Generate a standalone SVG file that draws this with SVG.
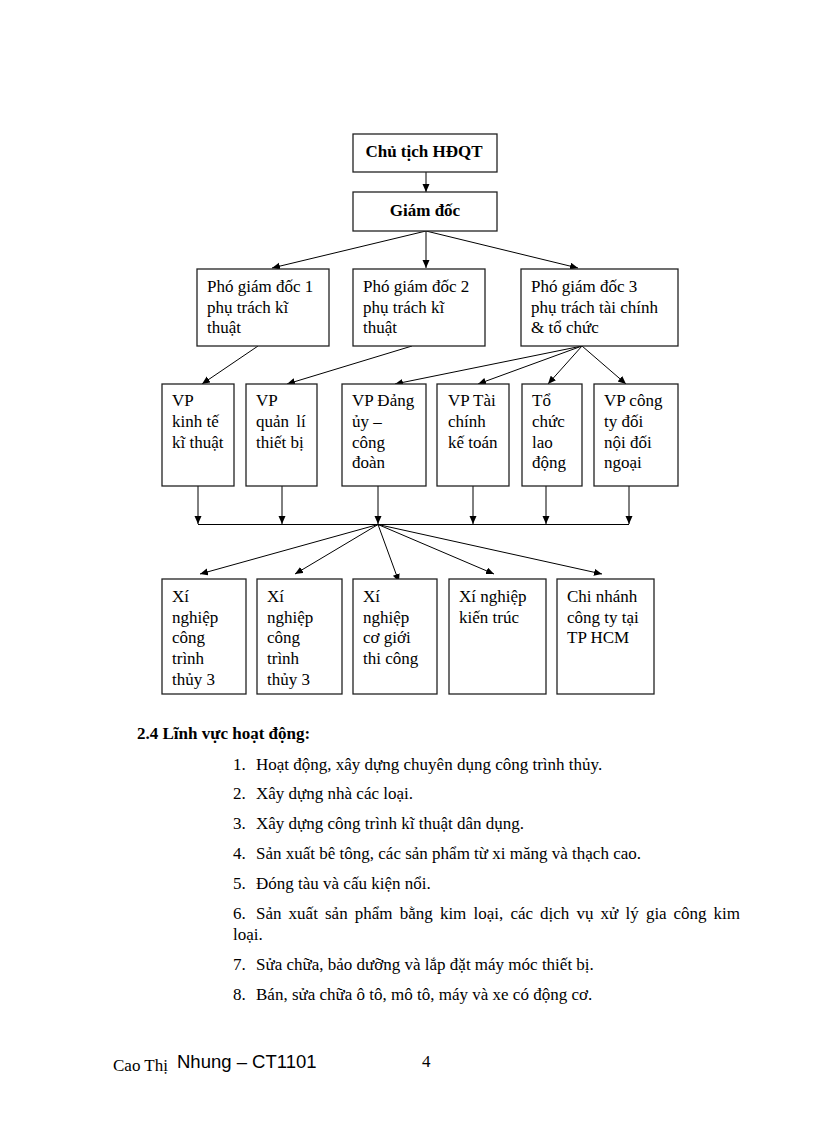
<svg xmlns="http://www.w3.org/2000/svg" width="816" height="1123" viewBox="0 0 816 1123">
<style>
.box{fill:#fff;stroke:#222;stroke-width:1.3}
.t{font-family:"Liberation Serif","Times New Roman",serif;font-size:17px;fill:#000}
.b{font-family:"Liberation Serif","Times New Roman",serif;font-size:17px;font-weight:bold;fill:#000}
.p{font-family:"Liberation Serif","Times New Roman",serif;font-size:17px;fill:#000}
.ph{font-family:"Liberation Serif","Times New Roman",serif;font-size:17px;font-weight:bold;fill:#000}
.c{stroke:#000;stroke-width:1;fill:none}
</style>
<defs>
<marker id="ah" markerUnits="userSpaceOnUse" markerWidth="9" markerHeight="8" refX="8" refY="3.5" orient="auto">
<path d="M0,0 L8,3.5 L0,7 z" fill="#000"/>
</marker>
</defs>
<rect width="816" height="1123" fill="#fff"/>

<g id="connectors">
<line class="c" x1="426" y1="172" x2="426" y2="192" marker-end="url(#ah)"/>
<line class="c" x1="426" y1="231" x2="272" y2="268" marker-end="url(#ah)"/>
<line class="c" x1="426" y1="231" x2="426" y2="268" marker-end="url(#ah)"/>
<line class="c" x1="426" y1="231" x2="578" y2="268" marker-end="url(#ah)"/>
<line class="c" x1="258" y1="346" x2="202" y2="384" marker-end="url(#ah)"/>
<line class="c" x1="412" y1="346" x2="287" y2="384" marker-end="url(#ah)"/>
<line class="c" x1="582" y1="346" x2="395" y2="384" marker-end="url(#ah)"/>
<line class="c" x1="582" y1="346" x2="478" y2="384" marker-end="url(#ah)"/>
<line class="c" x1="582" y1="346" x2="548" y2="384" marker-end="url(#ah)"/>
<line class="c" x1="582" y1="346" x2="626" y2="384" marker-end="url(#ah)"/>
<line class="c" x1="198" y1="486" x2="198" y2="524" marker-end="url(#ah)"/>
<line class="c" x1="282" y1="486" x2="282" y2="524" marker-end="url(#ah)"/>
<line class="c" x1="378" y1="486" x2="378" y2="524" marker-end="url(#ah)"/>
<line class="c" x1="473" y1="486" x2="473" y2="524" marker-end="url(#ah)"/>
<line class="c" x1="546" y1="486" x2="546" y2="524" marker-end="url(#ah)"/>
<line class="c" x1="629" y1="486" x2="629" y2="524" marker-end="url(#ah)"/>
<line class="c" x1="198" y1="524.5" x2="629" y2="524.5"/>
<line class="c" x1="378" y1="524.5" x2="200" y2="574" marker-end="url(#ah)"/>
<line class="c" x1="378" y1="524.5" x2="295" y2="574" marker-end="url(#ah)"/>
<line class="c" x1="378" y1="524.5" x2="399" y2="582" marker-end="url(#ah)"/>
<line class="c" x1="378" y1="524.5" x2="494" y2="574" marker-end="url(#ah)"/>
<line class="c" x1="378" y1="524.5" x2="602" y2="574" marker-end="url(#ah)"/>
</g>

<g id="chutich">
<rect class="box" x="353" y="134" width="144" height="38"/>
<text class="b" x="424" y="157" text-anchor="middle">Chủ tịch HĐQT</text>
</g>
<g id="giamdoc">
<rect class="box" x="353" y="192" width="144" height="39"/>
<text class="b" x="425" y="216" text-anchor="middle">Giám đốc</text>
</g>

<g id="pgd1">
<rect class="box" x="197" y="269" width="132" height="77"/>
<text class="t" x="207" y="292">Phó giám đốc 1</text>
<text class="t" x="207" y="312.5">phụ trách kĩ</text>
<text class="t" x="207" y="333">thuật</text>
</g>
<g id="pgd2">
<rect class="box" x="353" y="269" width="132" height="77"/>
<text class="t" x="363" y="292">Phó giám đốc 2</text>
<text class="t" x="363" y="312.5">phụ trách kĩ</text>
<text class="t" x="363" y="333">thuật</text>
</g>
<g id="pgd3">
<rect class="box" x="521" y="269" width="157" height="77"/>
<text class="t" x="531" y="292">Phó giám đốc 3</text>
<text class="t" x="531" y="312.5">phụ trách tài chính</text>
<text class="t" x="531" y="333">&amp; tổ chức</text>
</g>

<g id="vp1">
<rect class="box" x="162" y="384" width="72" height="102"/>
<text class="t" x="172" y="406">VP</text>
<text class="t" x="172" y="427">kinh tế</text>
<text class="t" x="172" y="447.5">kĩ thuật</text>
</g>
<g id="vp2">
<rect class="box" x="246" y="384" width="71" height="102"/>
<text class="t" x="256" y="406">VP</text>
<text class="t" x="256" y="427" word-spacing="3">quản lí</text>
<text class="t" x="256" y="447.5">thiết bị</text>
</g>
<g id="vp3">
<rect class="box" x="342" y="384" width="84" height="102"/>
<text class="t" x="352" y="406">VP Đảng</text>
<text class="t" x="352" y="427">ủy –</text>
<text class="t" x="352" y="447.5">công</text>
<text class="t" x="352" y="468">đoàn</text>
</g>
<g id="vp4">
<rect class="box" x="437" y="384" width="72" height="102"/>
<text class="t" x="448" y="406">VP Tài</text>
<text class="t" x="448" y="427">chính</text>
<text class="t" x="448" y="447.5">kế toán</text>
</g>
<g id="vp5">
<rect class="box" x="522" y="384" width="60" height="102"/>
<text class="t" x="532" y="406">Tổ</text>
<text class="t" x="532" y="427">chức</text>
<text class="t" x="532" y="447.5">lao</text>
<text class="t" x="532" y="468">động</text>
</g>
<g id="vp6">
<rect class="box" x="594" y="384" width="84" height="102"/>
<text class="t" x="604" y="406">VP công</text>
<text class="t" x="604" y="427">ty đối</text>
<text class="t" x="604" y="447.5">nội đối</text>
<text class="t" x="604" y="468">ngoại</text>
</g>

<g id="xn1">
<rect class="box" x="162" y="579" width="84" height="115"/>
<text class="t" x="172" y="601.5">Xí</text>
<text class="t" x="172" y="622.5">nghiệp</text>
<text class="t" x="172" y="643">công</text>
<text class="t" x="172" y="664">trình</text>
<text class="t" x="172" y="685">thủy 3</text>
</g>
<g id="xn2">
<rect class="box" x="257" y="579" width="85" height="115"/>
<text class="t" x="267" y="601.5">Xí</text>
<text class="t" x="267" y="622.5">nghiệp</text>
<text class="t" x="267" y="643">công</text>
<text class="t" x="267" y="664">trình</text>
<text class="t" x="267" y="685">thủy 3</text>
</g>
<g id="xn3">
<rect class="box" x="353" y="579" width="84" height="115"/>
<text class="t" x="363" y="601.5">Xí</text>
<text class="t" x="363" y="622.5">nghiệp</text>
<text class="t" x="363" y="643">cơ giới</text>
<text class="t" x="363" y="664">thi công</text>
</g>
<g id="xn4">
<rect class="box" x="449" y="579" width="97" height="115"/>
<text class="t" x="459" y="601.5">Xí nghiệp</text>
<text class="t" x="459" y="622.5">kiến trúc</text>
</g>
<g id="cn">
<rect class="box" x="557" y="579" width="97" height="115"/>
<text class="t" x="567" y="601.5">Chi nhánh</text>
<text class="t" x="567" y="622.5">công ty tại</text>
<text class="t" x="567" y="643">TP HCM</text>
</g>

<g id="section">
<text class="ph" x="137" y="739">2.4 Lĩnh vực hoạt động:</text>
<text class="p" x="233" y="770">1.</text><text class="p" x="256" y="770">Hoạt động, xây dựng chuyên dụng công trình thủy.</text>
<text class="p" x="233" y="799">2.</text><text class="p" x="256" y="799">Xây dựng nhà các loại.</text>
<text class="p" x="233" y="829">3.</text><text class="p" x="256" y="829">Xây dựng công trình kĩ thuật dân dụng.</text>
<text class="p" x="233" y="859">4.</text><text class="p" x="256" y="859">Sản xuất bê tông, các sản phẩm từ xi măng và thạch cao.</text>
<text class="p" x="233" y="889">5.</text><text class="p" x="256" y="889">Đóng tàu và cấu kiện nổi.</text>
<text class="p" y="919"><tspan x="233">6.</tspan><tspan x="256">Sản</tspan><tspan x="288.6">xuất</tspan><tspan x="325">sản</tspan><tspan x="354.8">phẩm</tspan><tspan x="399.8">bằng</tspan><tspan x="439.9">kim</tspan><tspan x="473.5">loại,</tspan><tspan x="510.4">các</tspan><tspan x="540.1">dịch</tspan><tspan x="576.5">vụ</tspan><tspan x="600.6">xử</tspan><tspan x="625.6">lý</tspan><tspan x="645.9">gia</tspan><tspan x="673.4">công</tspan><tspan x="713.6">kim</tspan></text>
<text class="p" x="233" y="940">loại.</text>
<text class="p" x="233" y="970">7.</text><text class="p" x="256" y="970">Sửa chữa, bảo dưỡng và lắp đặt máy móc thiết bị.</text>
<text class="p" x="233" y="1000">8.</text><text class="p" x="256" y="1000">Bán, sửa chữa ô tô, mô tô, máy và xe có động cơ.</text>
</g>

<g id="footer">
<text x="113" y="1071" style="font-family:'Liberation Serif','Times New Roman',serif;font-size:17px">Cao Thị</text>
<text x="177" y="1068" style="font-family:'Liberation Sans',Arial,sans-serif;font-size:18.5px">Nhung – CT1101</text>
<text x="422" y="1067" style="font-family:'Liberation Serif','Times New Roman',serif;font-size:17px">4</text>
</g>
</svg>
